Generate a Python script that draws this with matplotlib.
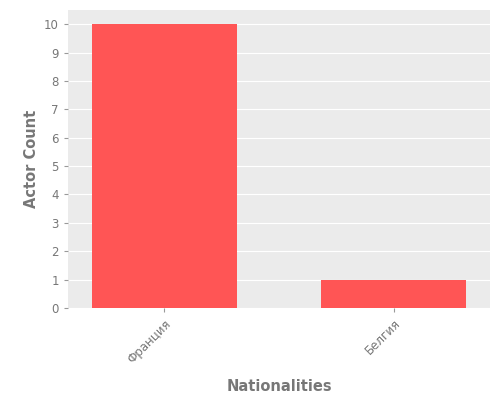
import matplotlib
matplotlib.use("Agg")
import matplotlib.pyplot as plt

categories = ["Франция", "Белгия"]
counts = [10, 1]

fig, ax = plt.subplots(figsize=(5, 4), dpi=100)
ax.set_facecolor("#EBEBEB")
ax.bar(categories, counts, color="#FF5555", width=0.63, zorder=3)
ax.set_yticks(range(0, 11))
ax.set_ylim(0, 10.5)
ax.set_xlim(-0.42, 1.42)
ax.grid(axis="y", color="white", linewidth=0.8, zorder=0)
for s in ax.spines.values():
    s.set_visible(False)
ax.tick_params(colors="#777777", labelsize=8.5, length=3, color="#999999")
plt.setp(ax.get_xticklabels(), rotation=45, ha="right", rotation_mode="anchor")
ax.set_xlabel("Nationalities", color="#777777", fontsize=10.5, fontweight="bold", labelpad=10)
ax.set_ylabel("Actor Count", color="#777777", fontsize=10.5, fontweight="bold")
fig.subplots_adjust(left=0.136, right=0.98, top=0.975, bottom=0.23)
fig.savefig("out.png")
